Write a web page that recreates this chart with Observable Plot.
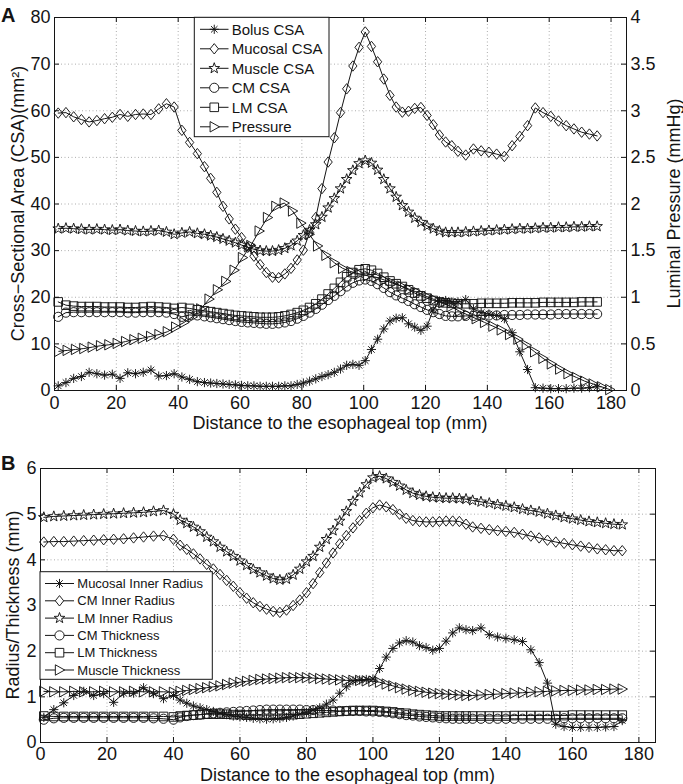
<!DOCTYPE html>
<html><head><meta charset="utf-8">
<script src="https://cdn.jsdelivr.net/npm/d3@7"></script>
<script src="https://cdn.jsdelivr.net/npm/@observablehq/plot@0.6"></script>
<style>
body{margin:0;background:#fff;width:683px;height:784px;overflow:hidden;}
svg{display:block}
</style></head><body><div id="chart"></div>
<script>
// ---------------- Panel A data ----------------
const xA = [1.2,3.7,6.2,8.7,11.2,13.7,16.2,18.7,21.2,23.7,26.2,28.7,31.2,33.7,36.2,38.7,41.2,43.7,46.2,
48.5,50.5,52.5,54.5,56.5,58.5,60.5,62.5,64.5,66.5,68.5,70.5,72.5,74.5,76.5,78.5,80.5,82.5,84.5,86.5,88.5,90.5,92.5,94.5,96.5,98.5,100.5,102.5,104.5,106.5,108.5,110.5,112.5,114.5,116.5,118.5,120.5,122.5,124.5,126.5,128.5,
130.5,133,135.5,138,140.5,143,145.5,148,150.5,153,155.5,158,160.5,163,165.5,168,170.5,173,175.5];
const bolusCSA = [1.0,1.7,2.6,3.0,3.9,3.6,3.3,3.5,2.6,3.8,3.6,3.9,4.4,3.1,3.2,3.6,2.9,2.4,1.9,
1.7,1.6,1.5,1.4,1.3,1.2,1.1,1.0,1.0,0.9,0.9,0.9,0.9,1.0,1.0,1.3,1.6,2.0,2.5,3.0,3.4,3.9,4.6,5.4,5.6,5.4,6.4,8.8,11,13.2,14.9,15.5,15.6,14.3,13.6,12.9,13.8,17.3,19.2,19.3,19,
19,19.5,17.5,16.7,16.4,16.1,15.4,12.4,8.3,4.5,0.6,0.5,0.4,0.4,0.4,0.5,0.5,0.6,0.8];
const mucosalCSA = [59.5,59.6,58.7,58.1,57.6,57.9,58.3,58.6,59.2,58.8,59.2,59.3,59.2,60.4,61.5,60.8,55.8,53.2,50.8,
48,45.5,42.5,39.5,36.8,34.6,32.8,30.7,28.8,27,25.3,24.3,24.2,25,26.2,28,30.1,33.9,37.1,43.3,49.0,54.2,59.6,64.7,69.6,73.6,76.9,73.8,70.5,66.8,63.3,60.8,59.7,59.9,60.5,60.7,59,57,54.8,53.3,52.5,
51.3,50.5,51.8,51.4,51.1,50.7,50.2,52.5,54.5,56.8,60.6,59.6,58.8,57.8,56.8,56.1,55.4,55,54.6];
const muscleCSA = [34.7,34.8,34.7,34.6,34.5,34.6,34.5,34.4,34.5,34.3,34.2,34.1,34.2,34.3,34,33.5,33.8,34,33.7,
33.5,33.2,32.9,32.5,32.1,31.7,31.2,30.7,30.3,30,29.9,29.9,30.1,30.5,31.1,32.1,33.3,34.4,35.6,37.2,39.2,41.2,43.3,45.3,47.2,48.7,49.3,48.8,47.3,45.3,43.3,41.5,39.7,38.3,37,36.1,35.3,34.7,34.2,33.9,33.9,
33.9,34,34.1,34.2,34.3,34.4,34.5,34.6,34.7,34.7,34.8,34.9,34.9,35,35,35.1,35.1,35.2,35.2];
const cmCSA = [15.8,16.7,16.8,16.8,16.8,16.8,16.8,16.8,16.8,16.7,16.7,16.8,16.8,16.8,16.7,16.4,15.8,16.2,16.1,
15.9,15.7,15.5,15.3,15.1,14.9,14.7,14.6,14.5,14.4,14.3,14.3,14.4,14.6,14.9,15.4,16,16.7,17.5,18.4,19.4,20.3,21.3,22.3,23.1,23.6,23.8,23.5,22.8,22,21.1,20.4,19.8,19.2,18.5,17.9,17.3,16.8,16.4,16,15.9,
15.9,16,16,16.1,16.1,16.1,16.2,16.2,16.2,16.3,16.3,16.3,16.3,16.4,16.4,16.4,16.4,16.4,16.4];
const lmCSA = [19,18.3,18.1,18,18,18,17.9,17.9,17.9,17.8,17.8,17.9,18,17.9,17.8,17.6,17.8,17.6,17.3,
17.1,16.9,16.7,16.5,16.3,16.1,16,15.9,15.8,15.7,15.7,15.7,15.8,16,16.3,16.7,17.2,17.8,18.6,19.6,20.7,21.9,23.2,24.4,25.3,25.9,26.1,25.8,25.1,24.3,23.5,22.9,22.3,21.6,20.9,20.3,19.8,19.3,19,18.8,18.7,
18.6,18.6,18.6,18.7,18.7,18.7,18.7,18.8,18.8,18.8,18.8,18.9,18.9,18.9,18.9,18.9,19,19,19];
const xPressure = [1.4,4.1,6.8,9.5,12.2,14.9,17.6,20.3,23,25.7,28.4,31.1,33.8,36.5,39.2,41.9,44.6,47.3,50,52.7,55.4,58.1,60.8,63.5,66.2,68.9,71.6,74.3,77,79.7,82.4,85.1,87.8,90.5,93.2,95.9,98.6,101.3,104,106.7,109.4,112.1,114.8,117.5,120.2,122.9,125.6,128.3,131,133.7,136.4,139.1,141.8,144.5,147.2,149.9,152.6,155.3,158,160.7,163.4,166.1,168.8,171.5,174.2,176.9,179.6];
const pressure = [0.42,0.43,0.44,0.45,0.465,0.48,0.49,0.505,0.525,0.545,0.56,0.58,0.60,0.63,0.68,0.73,0.79,0.875,0.98,1.08,1.17,1.29,1.425,1.555,1.71,1.855,1.975,2.01,1.925,1.795,1.675,1.55,1.45,1.37,1.31,1.275,1.25,1.23,1.215,1.185,1.15,1.12,1.085,1.05,1.01,0.975,0.94,0.90,0.85,0.81,0.77,0.73,0.69,0.65,0.60,0.55,0.485,0.415,0.345,0.285,0.23,0.18,0.14,0.10,0.07,0.04,0.01];

// ---------------- Panel B data ----------------
const xB = [1,4,7,10,13,16,19,22,25,28,31,34,37,40,
42,44,46,48,50,52,54,56,58,60,62,64,66,68,70,72,74,76,78,80,82,84,86,88,90,92,94,96,98,100,102,104,106,108,110,112,114,116,118,120,122,124,126,128,130,
132.5,135,137.5,140,142.5,145,147.5,150,152.5,155,157.5,160,162.5,165,167.5,170,172.5,175];
const mucosalInnerRadius = [0.55,0.72,0.87,1.03,1.12,1.03,1.07,0.88,1.08,1.08,1.2,1.07,0.96,1.03,
0.93,0.86,0.8,0.76,0.72,0.68,0.64,0.61,0.58,0.56,0.55,0.53,0.52,0.51,0.52,0.53,0.55,0.58,0.62,0.66,0.71,0.76,0.84,0.93,1.08,1.22,1.35,1.37,1.38,1.39,1.62,1.87,2.06,2.18,2.23,2.2,2.12,2.08,2.02,2.06,2.22,2.4,2.51,2.47,2.45,
2.51,2.36,2.31,2.28,2.25,2.21,2.03,1.75,1.3,0.4,0.35,0.33,0.33,0.33,0.33,0.34,0.35,0.48];
const cmInnerRadius = [4.39,4.4,4.4,4.41,4.42,4.43,4.44,4.45,4.46,4.48,4.5,4.52,4.53,4.45,
4.32,4.23,4.13,4.02,3.9,3.8,3.68,3.55,3.42,3.28,3.16,3.06,2.98,2.92,2.87,2.85,2.9,3.0,3.12,3.28,3.48,3.72,3.93,4.15,4.35,4.53,4.7,4.86,5.02,5.14,5.2,5.16,5.1,5.0,4.91,4.86,4.84,4.83,4.83,4.84,4.85,4.85,4.84,4.78,4.72,
4.69,4.66,4.64,4.62,4.6,4.56,4.52,4.48,4.43,4.39,4.36,4.33,4.3,4.27,4.24,4.22,4.2,4.2];
const lmInnerRadius = [4.93,4.95,4.96,4.97,4.98,4.99,5.0,5.01,5.02,5.03,5.04,5.06,5.08,5.0,
4.87,4.8,4.72,4.62,4.5,4.4,4.28,4.18,4.08,3.98,3.88,3.79,3.72,3.65,3.59,3.56,3.58,3.67,3.8,3.96,4.08,4.28,4.45,4.64,4.85,5.06,5.28,5.47,5.65,5.8,5.83,5.78,5.7,5.62,5.53,5.46,5.42,5.39,5.37,5.36,5.35,5.35,5.34,5.33,5.3,
5.27,5.24,5.21,5.18,5.15,5.11,5.08,5.05,5.01,4.97,4.93,4.9,4.87,4.84,4.82,4.8,4.78,4.77];
const cmThickness = [0.5,0.53,0.54,0.54,0.54,0.54,0.54,0.54,0.54,0.54,0.54,0.53,0.52,0.5,
0.55,0.58,0.6,0.61,0.63,0.64,0.65,0.66,0.67,0.68,0.69,0.7,0.71,0.72,0.72,0.72,0.72,0.72,0.72,0.71,0.71,0.7,0.7,0.7,0.69,0.69,0.69,0.69,0.68,0.68,0.67,0.66,0.64,0.62,0.6,0.59,0.57,0.56,0.55,0.54,0.53,0.52,0.52,0.52,0.52,
0.52,0.52,0.52,0.52,0.52,0.52,0.52,0.52,0.52,0.52,0.53,0.53,0.53,0.53,0.53,0.53,0.53,0.53];
const lmThickness = [0.58,0.57,0.57,0.57,0.57,0.57,0.57,0.57,0.57,0.57,0.57,0.57,0.57,0.56,
0.58,0.59,0.6,0.61,0.62,0.62,0.62,0.62,0.61,0.61,0.6,0.6,0.6,0.6,0.6,0.6,0.61,0.61,0.62,0.63,0.64,0.65,0.66,0.67,0.68,0.69,0.7,0.7,0.7,0.7,0.69,0.68,0.67,0.65,0.64,0.62,0.61,0.6,0.59,0.58,0.58,0.58,0.58,0.58,0.58,
0.58,0.58,0.58,0.58,0.59,0.59,0.59,0.59,0.59,0.59,0.59,0.6,0.6,0.6,0.6,0.6,0.6,0.6];
const muscleThickness = [1.12,1.11,1.11,1.12,1.11,1.11,1.12,1.11,1.11,1.12,1.11,1.11,1.11,1.1,
1.12,1.14,1.16,1.18,1.2,1.22,1.24,1.27,1.3,1.32,1.34,1.36,1.38,1.39,1.4,1.41,1.42,1.42,1.42,1.42,1.41,1.4,1.39,1.38,1.37,1.36,1.36,1.36,1.35,1.34,1.32,1.28,1.24,1.2,1.17,1.14,1.12,1.1,1.08,1.07,1.06,1.05,1.04,1.03,1.03,
1.04,1.05,1.06,1.07,1.08,1.09,1.1,1.11,1.12,1.13,1.14,1.14,1.15,1.15,1.16,1.16,1.17,1.17];

// ---------------- ticks & labels ----------------
const xTicks = [0,20,40,60,80,100,120,140,160,180];
const yTicksA = [0,10,20,30,40,50,60,70,80];
const pressureTicks = [0,0.5,1,1.5,2,2.5,3,3.5,4];
const yTicksB = [0,1,2,3,4,5,6];
const legendA = ["Bolus CSA","Mucosal CSA","Muscle CSA","CM CSA","LM CSA","Pressure"];
const legendB = ["Mucosal Inner Radius","CM Inner Radius","LM Inner Radius","CM Thickness","LM Thickness","Muscle Thickness"];
const xTitle = "Distance to the esophageal top (mm)";
const yTitleA = "Cross\u2212Sectional Area (CSA)(mm\u00B2)";
const yTitleA2 = "Luminal Pressure (mmHg)";
const yTitleB = "Radius/Thickness (mm)";

// ---------------- marker symbols (MATLAB-like) ----------------
const rad = s => Math.sqrt(s / Math.PI);
const symAsterisk = {draw(c, s){const r=rad(s), d=r*Math.SQRT1_2;
  c.moveTo(-r,0);c.lineTo(r,0);c.moveTo(0,-r);c.lineTo(0,r);
  c.moveTo(-d,-d);c.lineTo(d,d);c.moveTo(-d,d);c.lineTo(d,-d);}};
const symDiamond = {draw(c, s){const r=rad(s), w=r*0.8;
  c.moveTo(0,-r);c.lineTo(w,0);c.lineTo(0,r);c.lineTo(-w,0);c.closePath();}};
const symStar = {draw(c, s){const r=rad(s), ri=r*0.4;
  for(let k=0;k<10;k++){const a=-Math.PI/2+k*Math.PI/5, rr=k%2?ri:r;
    const px=rr*Math.cos(a), py=rr*Math.sin(a); if(k) c.lineTo(px,py); else c.moveTo(px,py);} c.closePath();}};
const symCircle = {draw(c, s){const r=rad(s); c.moveTo(r,0); c.arc(0,0,r,0,2*Math.PI);}};
const symSquare = {draw(c, s){const r=rad(s); c.rect(-r,-r,2*r,2*r);}};
const symTriRight = {draw(c, s){const r=rad(s); c.moveTo(r,0); c.lineTo(-0.8*r,-r); c.lineTo(-0.8*r,r); c.closePath();}};

const FONT = '"Liberation Sans", Arial, Helvetica, sans-serif';
const INK = "#141414";
const rows = (xs, ys) => xs.map((x, i) => ({x, y: ys[i]}));

function seriesMarks(data, sym, r, y = "y") {
  return [
    Plot.line(data, {x: "x", y, stroke: INK, strokeWidth: 1}),
    Plot.dot(data, {x: "x", y, symbol: sym, r, stroke: INK, strokeWidth: 0.95, fill: "none"})
  ];
}
function boxMarks(xT, yT, W, H) {
  const L = 5;
  return [
    Plot.tickX(xT, {x: d => d, insetTop: H - L, stroke: INK}),
    Plot.tickX(xT, {x: d => d, insetBottom: H - L, stroke: INK}),
    Plot.tickY(yT, {y: d => d, insetRight: W - L, stroke: INK}),
    Plot.tickY(yT, {y: d => d, insetLeft: W - L, stroke: INK}),
    Plot.frame({stroke: INK, strokeWidth: 1})
  ];
}
const gridStyle = {stroke: "#8a8a8a", strokeOpacity: 1, strokeWidth: 0.7, strokeDasharray: "1,2.5"};

function addText(svg, x, y, txt, opts = {}) {
  return d3.select(svg).append("text")
    .attr("x", 0).attr("y", 0)
    .attr("transform", `translate(${x},${y})` + (opts.rotate ? ` rotate(${opts.rotate})` : ""))
    .attr("text-anchor", opts.anchor || "middle")
    .attr("dy", opts.dy || "0")
    .attr("font-family", FONT).attr("font-size", opts.size || 18)
    .attr("font-weight", opts.weight || "normal")
    .attr("fill", INK).text(txt);
}
function drawLegend(svg, box, labels, syms, rs, y0, step, lx0, lx1, tx, fs) {
  const g = d3.select(svg).append("g");
  g.append("rect").attr("x", box[0]).attr("y", box[1]).attr("width", box[2]-box[0]).attr("height", box[3]-box[1])
    .attr("fill", "white").attr("stroke", INK).attr("stroke-width", 1);
  labels.forEach((lab, i) => {
    const y = y0 + i * step;
    g.append("line").attr("x1", lx0).attr("x2", lx1).attr("y1", y).attr("y2", y).attr("stroke", INK).attr("stroke-width", 1);
    g.append("path").attr("transform", `translate(${(lx0+lx1)/2},${y})`)
      .attr("d", d3.symbol(syms[i], rs[i]*rs[i]*Math.PI)())
      .attr("fill", "white").attr("stroke", INK).attr("stroke-width", 0.95);
    g.append("text").attr("x", tx).attr("y", y).attr("dy", "0.35em")
      .attr("text-anchor", "start")
      .attr("font-family", FONT).attr("font-size", fs).attr("fill", INK).text(lab);
  });
}

// ---------------- Panel A ----------------
const A = {w: 683, h: 436, ml: 54, mr: 57, mt: 17, mb: 46};
const AW = A.w - A.ml - A.mr, AH = A.h - A.mt - A.mb;
const plotA = Plot.plot({
  width: A.w, height: A.h, marginLeft: A.ml, marginRight: A.mr, marginTop: A.mt, marginBottom: A.mb,
  style: {fontFamily: FONT, fontSize: "18px", background: "white", color: INK},
  x: {domain: [0, 185]},
  y: {domain: [0, 80]},
  marks: [
    Plot.gridX(xTicks.slice(1), gridStyle),
    Plot.gridY(yTicksA.slice(1, -1), gridStyle),
    ...seriesMarks(rows(xA, bolusCSA), symAsterisk, 4.6),
    ...seriesMarks(rows(xA, mucosalCSA), symDiamond, 5.2),
    ...seriesMarks(rows(xA, muscleCSA), symStar, 5.6),
    ...seriesMarks(rows(xA, cmCSA), symCircle, 4.6),
    ...seriesMarks(rows(xA, lmCSA), symSquare, 4.3),
    ...seriesMarks(rows(xPressure, pressure), symTriRight, 5.2, d => d.y * 20),
    ...boxMarks(xTicks, yTicksA, AW, AH),
    Plot.axisX(xTicks, {anchor: "bottom", tickSize: 0, tickPadding: 6, label: null, fontSize: 18}),
    Plot.axisY(yTicksA, {anchor: "left", tickSize: 0, tickPadding: 4, label: null, fontSize: 18}),
    Plot.axisY(pressureTicks.map(p => p * 20), {anchor: "right", tickSize: 0, tickPadding: 4, label: null, fontSize: 18, tickFormat: d => String(d / 20)})
  ]
});

// ---------------- Panel B ----------------
const B = {w: 683, h: 348, ml: 40, mr: 28, mt: 32, mb: 42};
const BW = B.w - B.ml - B.mr, BH = B.h - B.mt - B.mb;
const plotB = Plot.plot({
  width: B.w, height: B.h, marginLeft: B.ml, marginRight: B.mr, marginTop: B.mt, marginBottom: B.mb,
  style: {fontFamily: FONT, fontSize: "18px", background: "white", color: INK},
  x: {domain: [0, 185]},
  y: {domain: [0, 6]},
  marks: [
    Plot.gridX(xTicks.slice(1), gridStyle),
    Plot.gridY(yTicksB.slice(1, -1), gridStyle),
    ...seriesMarks(rows(xB, cmThickness), symCircle, 4.6),
    ...seriesMarks(rows(xB, lmThickness), symSquare, 4.3),
    ...seriesMarks(rows(xB, muscleThickness), symTriRight, 5.2),
    ...seriesMarks(rows(xB, mucosalInnerRadius), symAsterisk, 4.6),
    ...seriesMarks(rows(xB, cmInnerRadius), symDiamond, 5.2),
    ...seriesMarks(rows(xB, lmInnerRadius), symStar, 5.6),
    ...boxMarks(xTicks, yTicksB, BW, BH),
    Plot.axisX(xTicks, {anchor: "bottom", tickSize: 0, tickPadding: 5, label: null, fontSize: 18}),
    Plot.axisY(yTicksB, {anchor: "left", tickSize: 0, tickPadding: 4, label: null, fontSize: 18})
  ]
});

const root = document.getElementById("chart");
root.appendChild(plotA);
root.appendChild(plotB);

// titles and legends (layout only)
addText(plotA, 1, 22, "A", {anchor: "start", size: 20, weight: "bold"});
addText(plotA, A.ml + AW / 2, A.h - 7, xTitle);
addText(plotA, 17.5, A.mt + AH / 2, yTitleA, {rotate: -90, dy: "0.35em"});
addText(plotA, 674, A.mt + AH / 2, yTitleA2, {rotate: -90, dy: "0.35em"});
drawLegend(plotA, [194.3, 17.3, 329, 136.7], legendA,
  [symAsterisk, symDiamond, symStar, symCircle, symSquare, symTriRight], [4.6, 5.2, 5.6, 4.6, 4.3, 5.2],
  29.3, 19.5, 200, 228.5, 231.7, 15);

addText(plotB, 1, 34, "B", {anchor: "start", size: 20, weight: "bold"});
addText(plotB, B.ml + BW / 2, B.h - 3, xTitle);
addText(plotB, 13, B.mt + BH / 2, yTitleB, {rotate: -90, dy: "0.35em"});
drawLegend(plotB, [40, 135.7, 212.3, 243.3], legendB,
  [symAsterisk, symDiamond, symStar, symCircle, symSquare, symTriRight], [4.6, 5.2, 5.6, 4.6, 4.3, 5.2],
  147.5, 17.3, 45, 74, 77.3, 13);
</script>
</body></html>
